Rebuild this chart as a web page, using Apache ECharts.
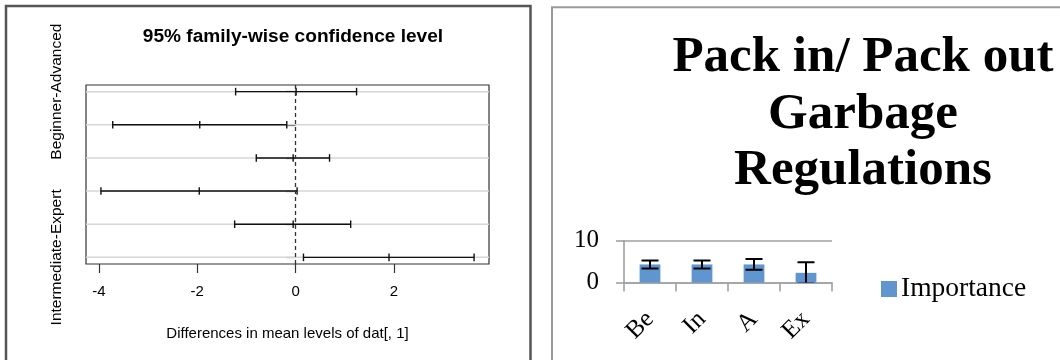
<!DOCTYPE html>
<html>
<head>
<meta charset="utf-8">
<script src="https://cdn.jsdelivr.net/npm/echarts@6/dist/echarts.min.js"></script>
<style>
html,body{margin:0;padding:0;background:#fff;}
#chart{width:1060px;height:360px;}
</style>
</head>
<body>
<div id="chart"></div>
<script>
// ---- Left panel: Tukey HSD 95% family-wise confidence intervals ----
const tukeyRows = ["Beginner-Advanced","Expert-Advanced","Intermediate-Advanced","Expert-Beginner","Intermediate-Beginner","Intermediate-Expert"];
const tukeyShownLabels = ["Beginner-Advanced","Intermediate-Expert"];
const tukeyDiff = [0.01, -1.95, -0.05, -1.96, -0.05, 1.90];
const tukeyLwr  = [-1.22, -3.72, -0.80, -3.96, -1.24, 0.16];
const tukeyUpr  = [1.24, -0.18, 0.69, 0.03, 1.12, 3.63];
const tukeyXTicks = [-4, -2, 0, 2];

// ---- Right panel: Pack in / Pack out bar chart ----
const barCategories = ["Be","In","A","Ex"];
const importance = [4.3, 4.3, 4.3, 2.3];
const importanceErr = [0.95, 0.95, 1.27, 2.5];
const barYTicks = [0, 10];

const lo = Math.min(...tukeyLwr), hi = Math.max(...tukeyUpr);
const ext = (hi - lo) * 0.04;
const xMin = lo - ext, xMax = hi + ext;
const rowIdx = tukeyRows.map((_, i) => i + 1);

const SANS = 'Liberation Sans';
const SERIF = 'Liberation Serif';

const chart = echarts.init(document.getElementById('chart'), null, {renderer: 'canvas'});

const option = {
  animation: false,
  backgroundColor: '#fff',
  graphic: [
    {type: 'rect', z: -10, silent: true, shape: {x: 6, y: 6, width: 524.5, height: 380},
     style: {fill: 'none', stroke: '#555', lineWidth: 2.5}},
    {type: 'rect', z: -10, silent: true, shape: {x: 552, y: 7.3, width: 540, height: 380},
     style: {fill: 'none', stroke: '#999', lineWidth: 2}}
  ],
  title: [
    {text: '95% family-wise confidence level', left: 288, top: 22.5, textAlign: 'center',
     textStyle: {fontFamily: SANS, fontWeight: 'bold', fontSize: 19.1, color: '#000'}},
    {text: 'Pack in/ Pack out\nGarbage\nRegulations', left: 858, top: 25, textAlign: 'center',
     textStyle: {fontFamily: SERIF, fontWeight: 'bold', fontSize: 51, lineHeight: 56.5, color: '#000'}}
  ],
  legend: {
    data: ['Importance'], left: 876, top: 270, itemWidth: 16, itemHeight: 16, icon: 'rect',
    textStyle: {fontFamily: SERIF, fontSize: 27.5, color: '#000', padding: [0,0,0,-1]},
    selectedMode: false
  },
  grid: [
    {left: 86, top: 85, width: 403, height: 179, show: true, borderColor: '#333', borderWidth: 1.2, backgroundColor: 'transparent'},
    {left: 624, top: 240.5, width: 208, height: 42}
  ],
  xAxis: [
    {type: 'value', gridIndex: 0, min: xMin, max: xMax,
     axisLine: {show: false},
     axisTick: {show: true, customValues: tukeyXTicks, length: 9, lineStyle: {color: '#333', width: 1.2}},
     axisLabel: {customValues: tukeyXTicks, margin: 20, fontFamily: SANS, fontSize: 15, color: '#000'},
     splitLine: {show: false},
     name: 'Differences in mean levels of dat[, 1]', nameLocation: 'middle', nameGap: 62,
     nameTextStyle: {fontFamily: SANS, fontSize: 15, color: '#000'}},
    {type: 'category', gridIndex: 1, data: barCategories, boundaryGap: true,
     axisLine: {show: true, lineStyle: {color: '#a0a0a0', width: 1.6}},
     axisTick: {show: true, alignWithLabel: false, interval: 0, length: 9, lineStyle: {color: '#a0a0a0', width: 1.6}},
     axisLabel: {rotate: 45, interval: 0, margin: 33, fontFamily: SERIF, fontSize: 25, color: '#000'}}
  ],
  yAxis: [
    {type: 'value', gridIndex: 0, min: 0.8, max: 6.2, inverse: true,
     axisLine: {show: false},
     axisTick: {show: true, customValues: rowIdx, length: 9.5, lineStyle: {color: '#333', width: 1.2}},
     axisLabel: {customValues: rowIdx, rotate: 90, margin: 21, fontFamily: SANS, fontSize: 15.5, color: '#000',
       formatter: function (v) { const n = tukeyRows[Math.round(v) - 1]; return tukeyShownLabels.indexOf(n) >= 0 ? n : ''; }},
     splitLine: {show: false}},
    {type: 'value', gridIndex: 1, min: 0, max: 10, interval: 10,
     axisLine: {show: true, lineStyle: {color: '#a0a0a0', width: 1.6}},
     axisTick: {show: true, length: 8, lineStyle: {color: '#a0a0a0', width: 1.6}},
     axisLabel: {margin: 25, fontFamily: SERIF, fontSize: 25, color: '#000', padding: [7, 0, 0, 0],
       formatter: function (v) { return barYTicks.indexOf(v) >= 0 ? String(v) : ''; }},
     splitLine: {show: true, lineStyle: {color: '#a0a0a0', width: 1.6}}}
  ],
  series: [
    {type: 'custom', name: 'tukey', xAxisIndex: 0, yAxisIndex: 0, z: 3,
     data: tukeyRows.map((n, i) => [i + 1, tukeyLwr[i], tukeyDiff[i], tukeyUpr[i]]),
     encode: {x: [1, 2, 3], y: 0},
     renderItem: function (params, api) {
       const row = api.value(0);
       const pL = api.coord([api.value(1), row]);
       const pM = api.coord([api.value(2), row]);
       const pH = api.coord([api.value(3), row]);
       const cs = params.coordSys;
       const h = 3.8;
       const st = {stroke: '#111', lineWidth: 1.4};
       return {type: 'group', children: [
         {type: 'line', shape: {x1: cs.x, y1: pL[1], x2: cs.x + cs.width, y2: pL[1]}, style: {stroke: '#d6d6d6', lineWidth: 1.5}},
         {type: 'line', shape: {x1: pL[0], y1: pL[1], x2: pH[0], y2: pH[1]}, style: st},
         {type: 'line', shape: {x1: pL[0], y1: pL[1] - h, x2: pL[0], y2: pL[1] + h}, style: st},
         {type: 'line', shape: {x1: pM[0], y1: pM[1] - h, x2: pM[0], y2: pM[1] + h}, style: st},
         {type: 'line', shape: {x1: pH[0], y1: pH[1] - h, x2: pH[0], y2: pH[1] + h}, style: st}
       ]};
     },
     markLine: {silent: true, symbol: 'none', label: {show: false}, z: 6,
       lineStyle: {type: [4, 3], color: '#333', width: 1.3},
       data: [{xAxis: 0}]}
    },
    {type: 'bar', name: 'Importance', xAxisIndex: 1, yAxisIndex: 1, data: importance,
     barWidth: '40%', itemStyle: {color: '#5f96d0'}},
    {type: 'custom', name: 'err', xAxisIndex: 1, yAxisIndex: 1, z: 5, clip: true,
     data: barCategories.map((c, i) => [i, importance[i], importanceErr[i]]),
     encode: {x: 0, y: 1},
     renderItem: function (params, api) {
       const x = api.value(0), m = api.value(1), e = api.value(2);
       const t = api.coord([x, m + e]);
       const b = api.coord([x, m - e]);
       const w = 8.5;
       const st = {stroke: '#000', lineWidth: 2};
       return {type: 'group', children: [
         {type: 'line', shape: {x1: t[0], y1: t[1], x2: b[0], y2: b[1]}, style: st},
         {type: 'line', shape: {x1: t[0] - w, y1: t[1], x2: t[0] + w, y2: t[1]}, style: st},
         {type: 'line', shape: {x1: b[0] - w, y1: b[1], x2: b[0] + w, y2: b[1]}, style: st}
       ]};
     }
    }
  ]
};
chart.setOption(option);
</script>
</body>
</html>
